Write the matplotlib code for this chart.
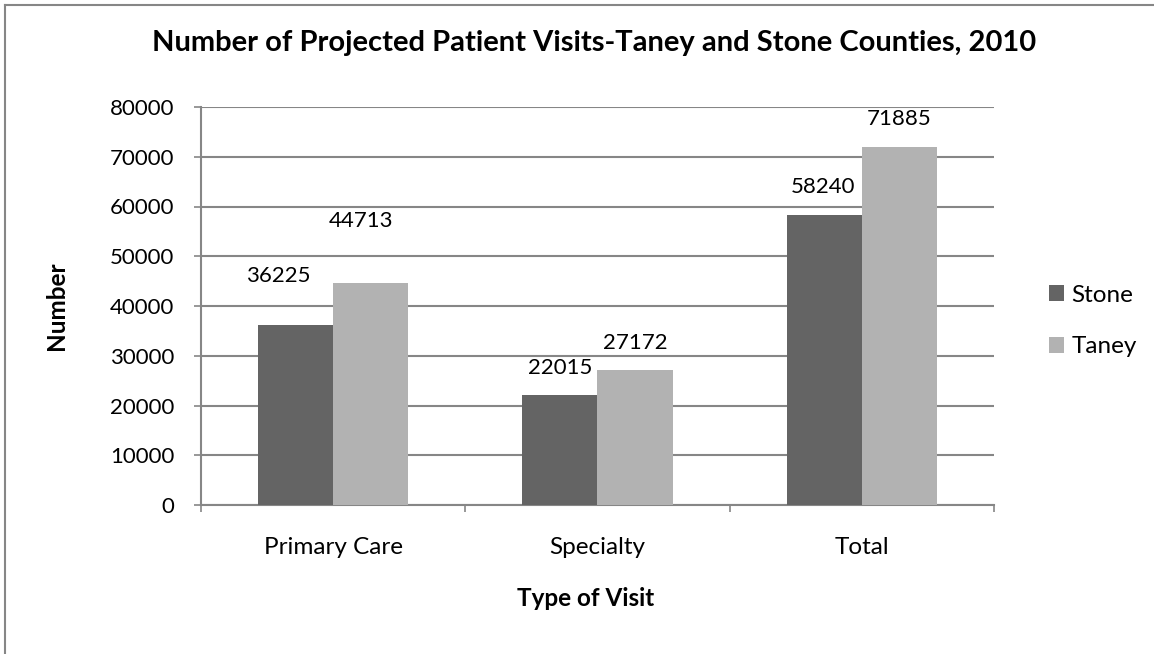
import numpy as np
import matplotlib.pyplot as plt
from matplotlib.lines import Line2D

# data
categories = ['Primary Care', 'Specialty', 'Total']
stone = [36225, 22015, 58240]
taney = [44713, 27172, 71885]
series_names = ['Stone', 'Taney']
yticks = [0, 10000, 20000, 30000, 40000, 50000, 60000, 70000, 80000]

# label nudges in pixels (dx, dy above bar top), Primary Care labels were moved by hand
stone_nudge = [(-17, 49), (0, 27), (-1, 28)]
taney_nudge = [(-10, 62), (0, 27), (0, 28)]

plt.rcParams['font.family'] = ['Lato', 'DejaVu Sans']

W, H = 1154, 654
fig = plt.figure(figsize=(W / 100, H / 100), dpi=100)
fig.patch.set_facecolor('white')

# plot area in pixels: x 201..994, y 107..505
ax = fig.add_axes([201 / W, 1 - 505 / H, (994 - 201) / W, (505 - 107) / H])

grey = '#868686'
c_stone = '#646464'
c_taney = '#b2b2b2'

x = np.arange(len(categories))
bw = 0.284
b1 = ax.bar(x - bw / 2, stone, bw, color=c_stone, label=series_names[0], zorder=3)
b2 = ax.bar(x + bw / 2, taney, bw, color=c_taney, label=series_names[1], zorder=3)

px2pt = 72 / 100
for bars, vals, nudge in [(b1, stone, stone_nudge), (b2, taney, taney_nudge)]:
    for rect, v, (dx, dy) in zip(bars, vals, nudge):
        ax.annotate(str(v), (rect.get_x() + rect.get_width() / 2, v),
                    xytext=(dx * px2pt, dy * px2pt), textcoords='offset points',
                    ha='center', va='center', fontsize=16, color='black')

ax.set_xlim(-0.5, 2.5)
ax.set_ylim(0, 80000)
ax.set_yticks(yticks)
ax.set_yticklabels([str(t) for t in yticks], fontsize=16)
ax.yaxis.grid(True, color=grey, linewidth=1.5, zorder=0)
ax.set_axisbelow(True)

# category ticks sit between groups, labels centered on groups
ax.set_xticks([-0.5, 0.5, 1.5, 2.5])
ax.set_xticklabels([])
ax.set_xticks(x, minor=True)
ax.set_xticklabels(categories, minor=True, fontsize=17.5)
ax.tick_params(axis='x', which='major', length=5, width=1.2, color=grey, direction='out')
ax.tick_params(axis='x', which='minor', length=0, pad=23)
ax.tick_params(axis='y', length=5, width=1.2, color=grey, pad=14)

for s in ['top', 'right']:
    ax.spines[s].set_visible(False)
for s in ['left', 'bottom']:
    ax.spines[s].set_color(grey)
    ax.spines[s].set_linewidth(1.5)

ax.set_xlabel('Type of Visit', fontsize=17.5, fontweight='bold')
ax.xaxis.set_label_coords((586 - 201) / (994 - 201), -(598 - 505) / (505 - 107))
ax.set_ylabel('Number', fontsize=17.5, fontweight='bold')
ax.yaxis.set_label_coords(-(201 - 57) / (994 - 201), 0.5)
ax.xaxis.label.set_va('center')
ax.yaxis.label.set_va('center')

fig.text(594 / W, 1 - 43 / H, 'Number of Projected Patient Visits-Taney and Stone Counties, 2010',
         ha='center', va='center', fontsize=21, fontweight='bold')

ax.legend(loc='center left', bbox_to_anchor=(1049 / W, 1 - 321 / H),
          bbox_transform=fig.transFigure, frameon=False, fontsize=17.5,
          handlelength=0.62, handleheight=0.62, handletextpad=0.3,
          labelspacing=1.25, borderaxespad=0, borderpad=0)

# outer chart frame, only top and left edges are visible in the crop
fig.add_artist(Line2D([5 / W, 1], [1 - 5 / H, 1 - 5 / H], color=grey, lw=1.5,
                      transform=fig.transFigure))
fig.add_artist(Line2D([5 / W, 5 / W], [0, 1 - 5 / H], color=grey, lw=1.5,
                      transform=fig.transFigure))

fig.savefig('out.png', dpi=100)
